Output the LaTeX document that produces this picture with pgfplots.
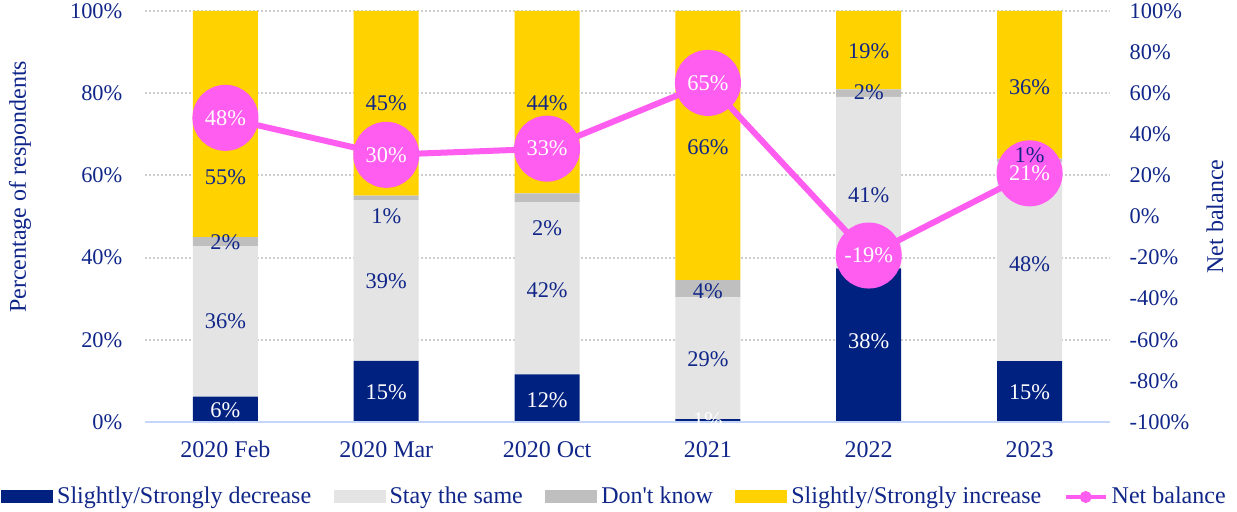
\documentclass[border=0pt]{standalone}
\usepackage{fontspec}
\setmainfont{Liberation Serif}
\usepackage{pgfplots}
\pgfplotsset{compat=1.18}
\definecolor{navybar}{RGB}{0,33,128}
\definecolor{txt}{RGB}{16,38,136}
\definecolor{stay}{RGB}{228,228,228}
\definecolor{dk}{RGB}{191,191,191}
\definecolor{yel}{RGB}{255,210,0}
\definecolor{mag}{RGB}{255,92,240}
\definecolor{axl}{RGB}{198,214,248}
\definecolor{grd}{RGB}{205,205,205}
\newcommand{\fa}{\fontsize{12}{14}\selectfont}
\newcommand{\fb}{\fontsize{11.2}{13}\selectfont}
\pgfplotsset{
  common/.style={scale only axis, width=482.5pt, height=205.5pt, xmin=-0.5, xmax=5.5, clip=false},
  barleg/.style={legend image code/.code={\fill[##1] (0pt,-3.25pt) rectangle (26pt,3.25pt);}},
}
\begin{document}
\begin{tikzpicture}
\path[use as bounding box] (-72.5pt,-45pt) rectangle (546pt,211pt);
% ---- bars ----
\begin{axis}[common, ybar stacked, bar width=32.5pt, ymin=0, ymax=100,
  axis x line*=bottom, axis y line*=left,
  x axis line style={draw=none}, y axis line style={draw=none},
  xtick={0,...,5}, xticklabels={2020 Feb,2020 Mar,2020 Oct,2021,2022,2023},
  ytick={0,20,...,100}, yticklabels={0\%,20\%,40\%,60\%,80\%,100\%},
  major tick length=0pt,
  ymajorgrids, major grid style={grd, line width=1pt, dash pattern=on 1pt off 1pt},
  yticklabel style={font=\fb, text=txt, xshift=-7.8pt},
  xticklabel style={font=\fa, text=txt, yshift=-6pt},
  ylabel={Percentage of respondents},
  ylabel style={font=\fa, text=txt, at={(axis description cs:-0.1295,0.572)}, anchor=center},
  legend columns=5,
  legend style={draw=none, fill=none, font=\fa, text=txt, at={(axis description cs:0.4875,-0.1825)}, anchor=center,
    /tikz/every even column/.append style={column sep=9.2pt}},
]
\addplot[fill=navybar, draw=none, barleg] coordinates {(0,6.2) (1,14.9) (2,11.6) (3,0.7) (4,37.4) (5,14.8)};
\addplot[fill=stay, draw=none, barleg] coordinates {(0,36.6) (1,39.1) (2,41.9) (3,29.6) (4,41.7) (5,48.5)};
\addplot[fill=dk, draw=none, barleg] coordinates {(0,2.2) (1,1.1) (2,2.1) (3,4.2) (4,1.8) (5,0.8)};
\addplot[fill=yel, draw=none, barleg] coordinates {(0,55.0) (1,44.9) (2,44.4) (3,65.5) (4,19.1) (5,35.9)};
\addlegendentry{Slightly/Strongly decrease}
\addlegendentry{Stay the same}
\addlegendentry{Don\textquotesingle t know}
\addlegendentry{Slightly/Strongly increase}
\addlegendimage{legend image code/.code={\draw[mag, line width=2pt] (0pt,0pt) -- (20pt,0pt); \fill[mag] (10pt,0pt) circle (2.8pt);}}
\addlegendentry{Net balance}
\end{axis}
% ---- net balance line ----
\begin{axis}[common, ymin=-100, ymax=100,
  axis y line*=right, axis x line=none, y axis line style={draw=none},
  ytick={-100,-80,...,100},
  yticklabels={-100\%,-80\%,-60\%,-40\%,-20\%,0\%,20\%,40\%,60\%,80\%,100\%},
  major tick length=0pt,
  yticklabel style={font=\fb, text=txt, anchor=west, xshift=6.3pt},
  ylabel={Net balance},
  ylabel style={font=\fa, text=txt, at={(axis description cs:1.1088,0.5)}, anchor=center},
  every node near coord/.append style={anchor=center, text=white, font=\fb},
]
\addplot[mag, line width=3pt, mark=*, mark size=15pt, mark options={fill=mag, draw=none},
  nodes near coords={\pgfplotspointmeta\%}, point meta=explicit symbolic]
  table[meta=l] {
x y l
0 48 48
1 30 30
2 33 33
3 65 65
4 -19 -19
5 21 21
};
\end{axis}
% ---- bar labels and x axis line ----
\begin{axis}[common, ymin=0, ymax=100,
  axis x line*=bottom, axis y line=none, xtick=\empty, ytick=\empty,
  x axis line style={axl, line width=1pt},
  every node near coord/.append style={anchor=center, font=\fb},
]
\addplot[draw=none, mark=none, nodes near coords={\pgfplotspointmeta\%}, point meta=explicit symbolic,
  every node near coord/.append style={text=white}]
  table[meta=l] {
x y l
0 2.9 6
1 7.3 15
2 5.4 12
3 0.5 1
4 19.7 38
5 7.3 15
};
\addplot[draw=none, mark=none, nodes near coords={\pgfplotspointmeta\%}, point meta=explicit symbolic,
  every node near coord/.append style={text=txt}]
  table[meta=l] {
x y l
0 24.6 36
0 43.8 2
0 59.6 55
1 34.3 39
1 50.1 1
1 77.6 45
2 32.1 42
2 47.2 2
2 77.6 44
3 15.3 29
3 31.9 4
3 66.9 66
4 55.2 41
4 80.3 2
4 90.3 19
5 38.4 48
5 65.0 1
5 81.5 36
};
\end{axis}
\end{tikzpicture}
\end{document}
